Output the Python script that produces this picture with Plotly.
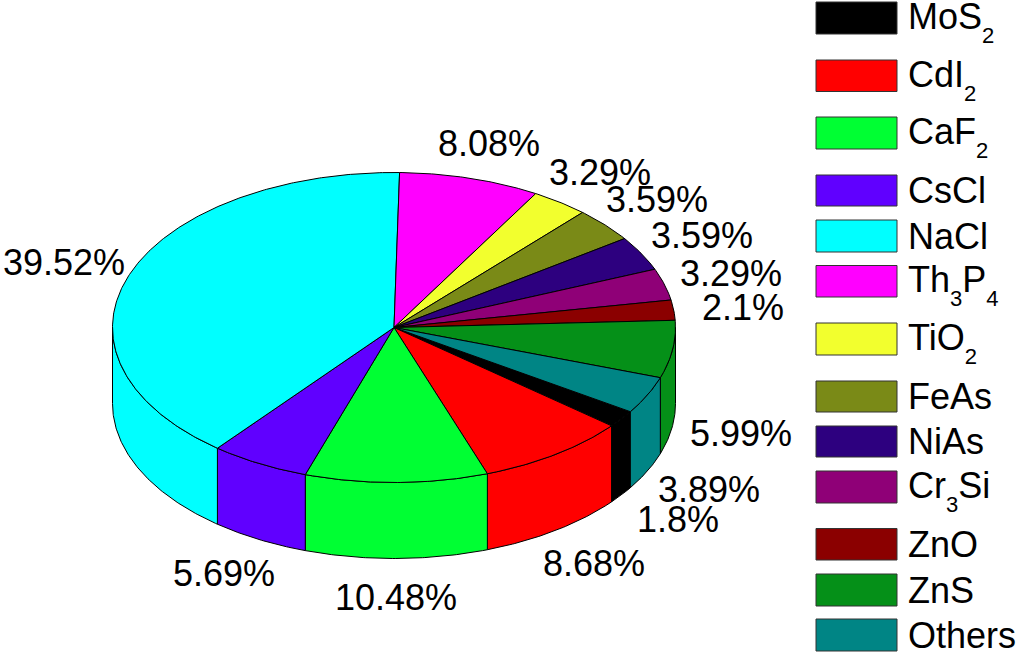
import numpy as np
import plotly.graph_objects as go


def sub(d):
    return f'<sub><span style="font-size:125%"><sub>{d}</sub></span></sub>'


# --- data ---
names = ["MoS" + sub(2), "CdI" + sub(2), "CaF" + sub(2), "CsCl", "NaCl",
         "Th" + sub(3) + "P" + sub(4), "TiO" + sub(2), "FeAs", "NiAs",
         "Cr" + sub(3) + "Si", "ZnO", "ZnS", "Others"]
values = [1.8, 8.68, 10.48, 5.69, 39.52, 8.08, 3.29, 3.59, 3.59, 3.29, 2.1, 5.99, 3.89]
colors = ["#000000", "#ff0000", "#00ff33", "#6000ff", "#00ffff", "#ff00ff", "#f2ff2e",
          "#7a8a17", "#2d007f", "#8f0077", "#8b0000", "#059018", "#008585"]

# --- layout constants ---
W, H = 1020, 653
CX, CY, RX, RY, DEPTH = 394.0, 327.5, 281.5, 155.0, 76.0
START = -32.9
label_xy = [(678, 519), (594, 563), (396, 597), (224, 573), (64, 262), (489, 143), (600, 172),
            (657, 199), (702, 235), (731, 273), (743, 307), (741, 433), (709, 489)]
swatch_y = [(2, 34), (60, 91.5), (117, 149), (175, 206), (220, 252), (265.5, 297), (323, 355),
            (381, 412), (426, 457), (471, 503), (528.5, 560), (574, 606), (619, 651)]
FONT = "Liberation Sans, Arial, sans-serif"
FS = 36
SUB_SHIFT = 4


def arc(a0, a1):
    n = max(2, int(abs(a1 - a0) * 2) + 1)
    t = np.radians(np.linspace(a0, a1, n))
    return CX + RX * np.cos(t), CY - RY * np.sin(t)


fig = go.Figure()
total = sum(values)
spans = []
a = START
for v in values:
    b = a - v / total * 360
    spans.append((a, b))
    a = b


def add_poly(x, y, color):
    fig.add_trace(go.Scatter(x=x, y=y, mode="lines", fill="toself", fillcolor=color,
                             line=dict(color="#000000", width=1), hoverinfo="skip", showlegend=False))


# sides: only the part of each slice facing the viewer (angles from -180 to 0)
for (a, b), c in zip(spans, colors):
    for shift in (0, 360):
        hi, lo = min(a + shift, 0), max(b + shift, -180)
        if hi > lo:
            x, y = arc(hi, lo)
            px = np.concatenate([x, x[::-1], x[:1]])
            py = np.concatenate([y, y[::-1] + DEPTH, y[:1]])
            add_poly(px, py, c)

# top faces
for (a, b), c in zip(spans, colors):
    x, y = arc(a, b)
    add_poly(np.concatenate([[CX], x, [CX]]), np.concatenate([[CY], y, [CY]]), c)

annotations = []
for v, (lx, ly) in zip(values, label_xy):
    annotations.append(dict(x=lx, y=ly, xref="x", yref="y", text=f"{v}%", showarrow=False,
                            xanchor="center", yanchor="middle", font=dict(family=FONT, size=FS, color="#000000")))

shapes = []
for n, c, (y0, y1) in zip(names, colors, swatch_y):
    shapes.append(dict(type="rect", xref="x", yref="y", x0=816, x1=897, y0=y0, y1=y1,
                       fillcolor=c, line=dict(color="#333333", width=1)))
    annotations.append(dict(x=906, y=(y0 + y1) / 2 + (SUB_SHIFT if "<sub>" in n else 0), xref="x", yref="y",
                            text=n, showarrow=False, xanchor="left", yanchor="middle",
                            font=dict(family=FONT, size=FS, color="#000000")))

fig.update_layout(width=W, height=H, margin=dict(l=0, r=0, t=0, b=0), paper_bgcolor="white",
                  plot_bgcolor="white", showlegend=False, shapes=shapes, annotations=annotations,
                  xaxis=dict(range=[0, W], visible=False, fixedrange=True),
                  yaxis=dict(range=[H, 0], visible=False, fixedrange=True))
fig.write_html("out.html", config={"displayModeBar": False},
               post_script="document.body.style.margin='0';document.body.style.overflow='hidden';")
